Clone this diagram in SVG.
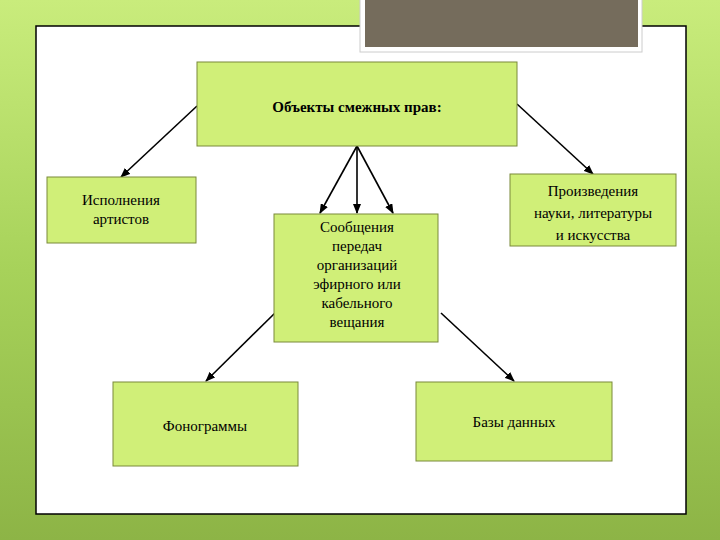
<svg xmlns="http://www.w3.org/2000/svg" width="720" height="540" viewBox="0 0 720 540">
<defs>
<linearGradient id="bg" x1="0" y1="0" x2="0" y2="1"><stop offset="0" stop-color="#c9ec7c"/><stop offset="0.5" stop-color="#a7d25a"/><stop offset="1" stop-color="#8db446"/></linearGradient>
<marker id="ah" markerWidth="10" markerHeight="8" refX="9" refY="4" orient="auto" markerUnits="userSpaceOnUse"><path d="M0,0 L10,4 L0,8 Z" fill="#000"/></marker>
<style>
.n{fill:#d0ef78;stroke:#7a8a3a;stroke-width:1}
.t{font-family:"Liberation Serif",serif;font-size:15px;fill:#000;text-anchor:middle}
.c{stroke:#000;stroke-width:1.6;fill:none;marker-end:url(#ah)}
</style>
</defs>
<rect width="720" height="540" fill="url(#bg)"/>
<rect x="36" y="26" width="650" height="488" fill="#fff" stroke="#000" stroke-width="1.5"/>
<rect x="360" y="-2" width="282" height="54" fill="#fff" stroke="#ccc"/>
<rect x="365" y="-2" width="273" height="49" fill="#756c5c"/>
<g id="connectors">
<line class="c" x1="197" y1="106" x2="121" y2="177"/>
<line class="c" x1="357" y1="146" x2="320" y2="213"/>
<line class="c" x1="357" y1="146" x2="357" y2="213"/>
<line class="c" x1="357" y1="146" x2="393" y2="213"/>
<line class="c" x1="517" y1="104" x2="593" y2="174"/>
<line class="c" x1="275" y1="313" x2="206" y2="381"/>
<line class="c" x1="441" y1="313" x2="514" y2="381"/>
</g>
<g id="top"><rect class="n" x="197" y="62" width="320" height="84"/><text class="t" x="357" y="112" font-weight="bold">Объекты смежных прав:</text></g>
<g id="ispolneniya"><rect class="n" x="47" y="177" width="149" height="66"/><text class="t" x="121" y="205">Исполнения</text><text class="t" x="121" y="224">артистов</text></g>
<g id="soobshcheniya"><rect class="n" x="274" y="214" width="164" height="128"/>
<text class="t" x="357" y="232">Сообщения</text><text class="t" x="357" y="251">передач</text><text class="t" x="357" y="270">организаций</text><text class="t" x="357" y="289">эфирного или</text><text class="t" x="357" y="308">кабельного</text><text class="t" x="357" y="327">вещания</text></g>
<g id="proizvedeniya"><rect class="n" x="510" y="174" width="166" height="72"/><text class="t" x="593" y="196">Произведения</text><text class="t" x="593" y="218">науки, литературы</text><text class="t" x="593" y="240">и искусства</text></g>
<g id="fonogrammy"><rect class="n" x="113" y="382" width="185" height="84"/><text class="t" x="205" y="431">Фонограммы</text></g>
<g id="bazy"><rect class="n" x="416" y="382" width="196" height="79"/><text class="t" x="514" y="427">Базы данных</text></g>
</svg>
